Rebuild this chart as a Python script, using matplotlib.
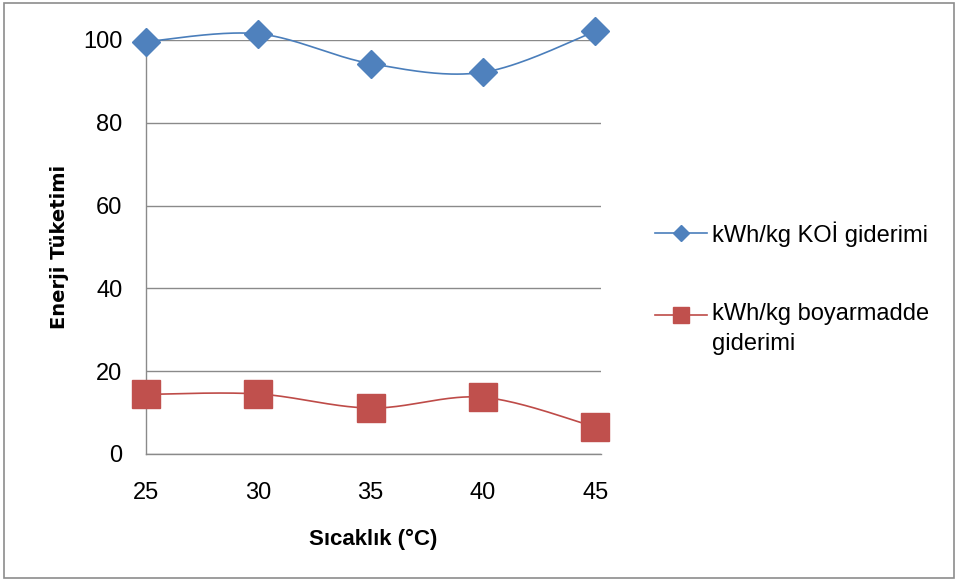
import numpy as np
import matplotlib
matplotlib.use("Agg")
import matplotlib.pyplot as plt
from matplotlib.patches import Rectangle
from matplotlib.lines import Line2D

plt.rcParams['font.family'] = ['Liberation Sans', 'DejaVu Sans']

temps = [25, 30, 35, 40, 45]
koi = [99.6, 101.5, 94.3, 92.2, 102.1]
boya = [14.4, 14.5, 11.1, 13.7, 6.5]
series_labels = ["kWh/kg KOİ giderimi", "kWh/kg boyarmadde\ngiderimi"]
y_ticks = [0, 20, 40, 60, 80, 100]
x_label = "Sıcaklık (°C)"
y_label = "Enerji Tüketimi"


def smooth(xs, ys, n=40):
    """Bezier smoothing like Excel's smoothed lines."""
    xs = np.asarray(xs, float)
    ys = np.asarray(ys, float)
    px = np.concatenate([[xs[0]], xs, [xs[-1]]])
    py = np.concatenate([[ys[0]], ys, [ys[-1]]])
    ox, oy = [], []
    for i in range(1, len(px) - 2):
        p0 = np.array([px[i - 1], py[i - 1]])
        p1 = np.array([px[i], py[i]])
        p2 = np.array([px[i + 1], py[i + 1]])
        p3 = np.array([px[i + 2], py[i + 2]])
        c1 = p1 + (p2 - p0) / 6.0
        c2 = p2 - (p3 - p1) / 6.0
        t = np.linspace(0, 1, n)[:, None]
        b = ((1 - t) ** 3) * p1 + 3 * ((1 - t) ** 2) * t * c1 + 3 * (1 - t) * t ** 2 * c2 + t ** 3 * p2
        ox.extend(b[:, 0])
        oy.extend(b[:, 1])
    return np.array(ox), np.array(oy)


W, H = 958, 581
fig = plt.figure(figsize=(W / 100, H / 100), dpi=100)
fig.patch.set_facecolor("white")
fig.add_artist(Rectangle((0.004, 0.006), 0.992, 0.988, transform=fig.transFigure,
                         fill=False, edgecolor="#8c8c8c", linewidth=1.2))

ax = fig.add_axes([146 / W, 1 - 454 / H, (601 - 146) / W, (454 - 40) / H])
ax.set_xlim(25, 45.25)
ax.set_ylim(0, 100)
ax.set_yticks(y_ticks)
ax.set_xticks(temps)
ax.yaxis.grid(True, color="#8a8a8a", linewidth=1.0)
ax.set_axisbelow(True)
for s in ["top", "right"]:
    ax.spines[s].set_visible(False)
for s in ["left", "bottom"]:
    ax.spines[s].set_color("#8a8a8a")
    ax.spines[s].set_linewidth(1.0)
ax.tick_params(length=0, colors="black")
ax.tick_params(axis="y", labelsize=17, pad=17)
ax.tick_params(axis="x", labelsize=17, pad=20)

blue_line, blue_mk = "#4A7EBB", "#4F81BD"
red_line, red_mk = "#BE4B48", "#C0504D"

sx, sy = smooth(temps, koi)
ax.plot(sx, sy, color=blue_line, linewidth=1.2, zorder=3, clip_on=False)
ax.plot(temps, koi, linestyle="none", marker="D", markersize=14, color=blue_mk,
        markeredgecolor=blue_mk, zorder=4, clip_on=False)
sx, sy = smooth(temps, boya)
ax.plot(sx, sy, color=red_line, linewidth=1.2, zorder=3, clip_on=False)
ax.plot(temps, boya, linestyle="none", marker="s", markersize=20, color=red_mk,
        markeredgecolor=red_mk, zorder=4, clip_on=False)

ax.set_xlabel(x_label, fontsize=16, fontweight="bold", labelpad=18)
ax.set_ylabel(y_label, fontsize=14, fontweight="bold", labelpad=10,
              family=["DejaVu Sans"])

# legend (drawn manually so the marker lines up with the first text line)
leg_rows = [(233, blue_line, blue_mk, "D", 8.6), (315, red_line, red_mk, "s", 12)]
for (yy, lc, mc, mk, ms), lab in zip(leg_rows, series_labels):
    fy = 1 - yy / H
    fig.add_artist(Line2D([655 / W, 707 / W], [fy, fy], transform=fig.transFigure,
                          color=lc, linewidth=1.2))
    fig.add_artist(Line2D([681 / W], [fy], transform=fig.transFigure, marker=mk,
                          markersize=ms, color=mc, linestyle="none"))
    fig.text(712 / W, fy + 12 / H, lab, fontsize=17, va="top", ha="left",
             linespacing=1.45)

fig.savefig("out.png", dpi=100)
